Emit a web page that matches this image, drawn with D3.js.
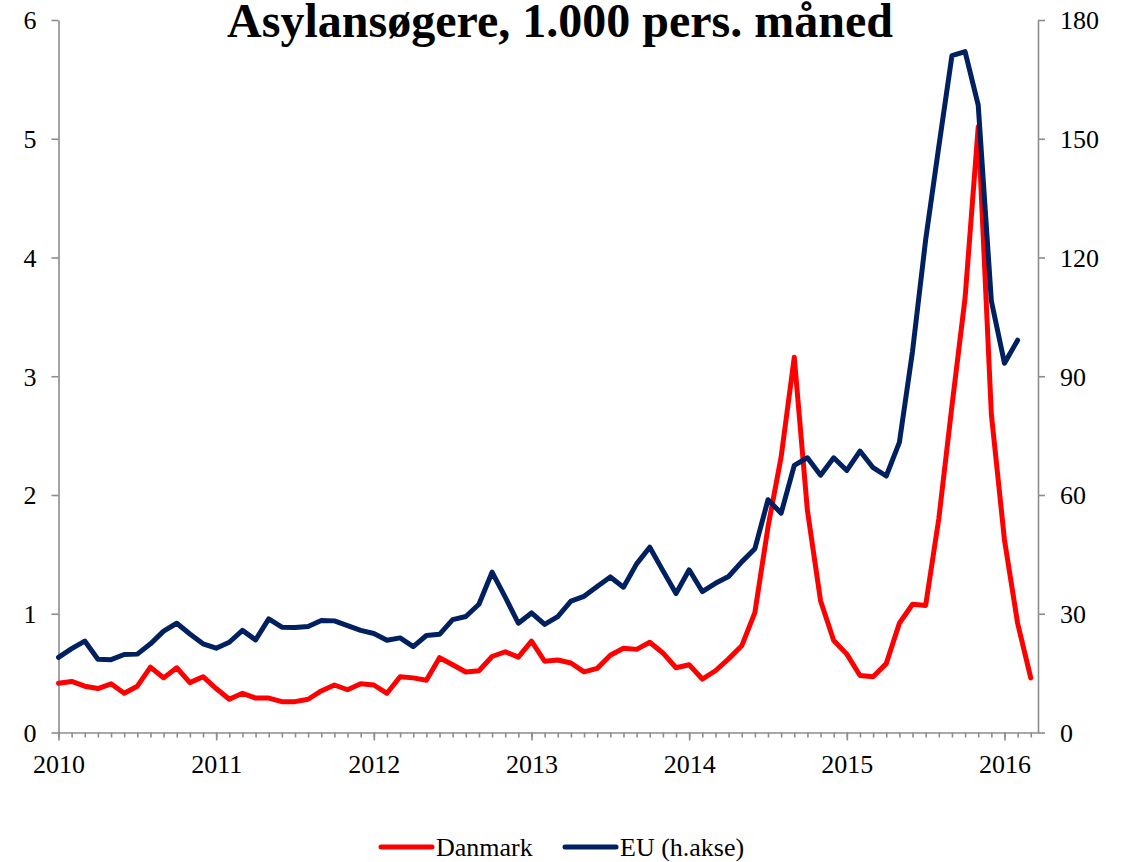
<!DOCTYPE html>
<html>
<head>
<meta charset="utf-8">
<script src="https://cdn.jsdelivr.net/npm/d3@7"></script>
<style>
  html, body { margin: 0; padding: 0; background: #fff; }
  svg { display: block; }
  text { font-family: "Liberation Serif", "Times New Roman", serif; fill: #000; }
</style>
</head>
<body>
<svg id="chart" width="1127" height="862"></svg>
<script>
// ---- Data (monthly, Jan 2010 onward) ----
const title = "Asylansøgere, 1.000 pers. måned";
const yearLabels = ["2010", "2011", "2012", "2013", "2014", "2015", "2016"];
const leftTicks = [0, 1, 2, 3, 4, 5, 6];
const rightTicks = [0, 30, 60, 90, 120, 150, 180];
const seriesNames = ["Danmark", "EU (h.akse)"];

// Danmark, 1.000 persons (left axis), Jan 2010 - Mar 2016
const danmark = [
  0.415, 0.43, 0.39, 0.37, 0.41, 0.33, 0.39, 0.55, 0.46, 0.545, 0.42, 0.47,
  0.37, 0.28, 0.33, 0.29, 0.29, 0.26, 0.26, 0.28, 0.35, 0.40, 0.36, 0.41,
  0.40, 0.33, 0.47, 0.46, 0.44, 0.63, 0.57, 0.51, 0.52, 0.64, 0.68, 0.635,
  0.77, 0.60, 0.61, 0.585, 0.51, 0.54, 0.65, 0.71, 0.70, 0.76, 0.67, 0.545,
  0.57, 0.45, 0.52, 0.62, 0.73, 1.01, 1.73, 2.32, 3.16, 1.87, 1.11, 0.775,
  0.66, 0.48, 0.47, 0.58, 0.92, 1.08, 1.07, 1.80, 2.75, 3.66, 5.10, 2.68,
  1.62, 0.92, 0.46
];
// EU, 1.000 persons (right axis), Jan 2010 - Feb 2016
const eu = [
  19.0, 21.2, 23.1, 18.5, 18.4, 19.7, 19.8, 22.4, 25.6, 27.6, 24.9, 22.4,
  21.3, 22.8, 25.8, 23.4, 28.7, 26.6, 26.5, 26.8, 28.3, 28.2, 27.0, 25.8,
  25.0, 23.3, 23.9, 21.7, 24.5, 24.8, 28.5, 29.3, 32.4, 40.5, 34.2, 27.6,
  30.2, 27.3, 29.3, 33.2, 34.4, 36.9, 39.3, 36.7, 42.6, 46.8, 40.9, 35.1,
  41.1, 35.6, 37.7, 39.4, 43.1, 46.4, 58.8, 55.4, 67.5, 69.4, 65.0, 69.4,
  66.2, 71.1, 66.9, 64.8, 73.3, 96.3, 124.5, 148, 171, 172, 158.5, 109,
  93.3, 99.1
];

// ---- Layout ----
const svg = d3.select("#chart");
const plotLeft = 58.5, plotRight = 1038, plotTop = 20, plotBottom = 732.5;
const axisColor = "#8c8c8c";
const fontSize = 26;

const x = d3.scaleLinear().domain([0, 74.55]).range([plotLeft, plotRight]);
const yL = d3.scaleLinear().domain([0, 6]).range([plotBottom, plotTop]);
const yR = d3.scaleLinear().domain([0, 180]).range([plotBottom, plotTop]);

// ---- Axes ----
function styleAxis(g) {
  g.select(".domain").attr("stroke", axisColor).attr("stroke-width", 1.6);
  g.selectAll(".tick line").attr("stroke", axisColor).attr("stroke-width", 1.6);
  g.selectAll(".tick text").style("font-size", fontSize + "px")
    .style("font-family", '"Liberation Serif", "Times New Roman", serif').attr("fill", "#000");
}

// left axis
const gL = svg.append("g").attr("transform", `translate(${plotLeft},0)`)
  .call(d3.axisLeft(yL).tickValues(leftTicks).tickSize(7).tickSizeOuter(0).tickPadding(15).tickFormat(d3.format("d")));
styleAxis(gL);
gL.selectAll(".tick text").attr("dy", "0.34em");

// right axis
const gR = svg.append("g").attr("transform", `translate(${plotRight},0)`)
  .call(d3.axisRight(yR).tickValues(rightTicks).tickSize(7).tickSizeOuter(0).tickPadding(15).tickFormat(d3.format("d")));
styleAxis(gR);
gR.selectAll(".tick text").attr("dy", "0.34em");

// bottom axis: monthly minor ticks
const monthIdx = d3.range(0, danmark.length);
const gXm = svg.append("g").attr("transform", `translate(0,${plotBottom})`)
  .call(d3.axisBottom(x).tickValues(monthIdx).tickSize(5).tickSizeOuter(0).tickFormat(""));
styleAxis(gXm);

// bottom axis: year ticks with labels
const yearIdx = yearLabels.map((_, i) => i * 12);
const gXy = svg.append("g").attr("transform", `translate(0,${plotBottom})`)
  .call(d3.axisBottom(x).tickValues(yearIdx).tickSize(8).tickSizeOuter(0).tickPadding(14)
    .tickFormat((d, i) => yearLabels[i]));
styleAxis(gXy);
gXy.select(".domain").remove();

// ---- Lines ----
const lineL = d3.line().x((d, i) => x(i)).y(d => yL(d));
const lineR = d3.line().x((d, i) => x(i)).y(d => yR(d));

svg.append("path").datum(danmark)
  .attr("d", lineL).attr("fill", "none").attr("stroke", "#ff0000")
  .attr("stroke-width", 5).attr("stroke-linejoin", "round").attr("stroke-linecap", "round");

svg.append("path").datum(eu)
  .attr("d", lineR).attr("fill", "none").attr("stroke", "#002060")
  .attr("stroke-width", 5).attr("stroke-linejoin", "round").attr("stroke-linecap", "round");

// ---- Title ----
svg.append("text").attr("x", 560).attr("y", 37).attr("text-anchor", "middle")
  .style("font-size", "48px").style("font-weight", "bold").text(title);

// ---- Legend ----
const legendColors = ["#ff0000", "#002060"];
const legendX = [381, 565];
const legend = svg.append("g");
seriesNames.forEach((name, i) => {
  legend.append("line").attr("x1", legendX[i]).attr("x2", legendX[i] + 51)
    .attr("y1", 847).attr("y2", 847).attr("stroke", legendColors[i])
    .attr("stroke-width", 5).attr("stroke-linecap", "round");
  legend.append("text").attr("x", legendX[i] + 55).attr("y", 856)
    .style("font-size", fontSize + "px").text(name);
});
</script>
</body>
</html>
